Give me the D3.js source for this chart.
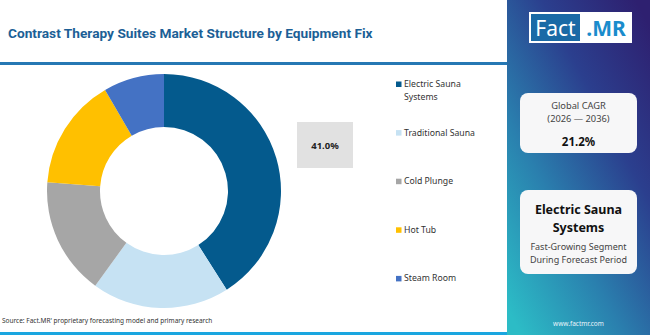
<!DOCTYPE html>
<html>
<head>
<meta charset="utf-8">
<title>Contrast Therapy Suites Market Structure by Equipment Fix</title>
<script src="https://d3js.org/d3.v7.min.js"></script>
<style>
  body { margin: 0; background: #fff; }
  svg { display: block; font-family: "Noto Sans", sans-serif; }
</style>
</head>
<body>
<svg width="650" height="335"></svg>
<script>
// data
const segments = ["Electric Sauna Systems", "Traditional Sauna", "Cold Plunge", "Hot Tub", "Steam Room"];
const shares = [41.0, 19.0, 16.2, 15.4, 8.4];
const colors = ["#045a8d", "#c6e2f3", "#a6a6a6", "#ffc000", "#4472c4"];
const legendLines = [["Electric Sauna", "Systems"], ["Traditional Sauna"], ["Cold Plunge"], ["Hot Tub"], ["Steam Room"]];
const cagrLabel = ["Global CAGR", "(2026 \u2014 2036)"];
const cagrValue = "21.2%";
const topSegment = ["Electric Sauna", "Systems"];
const topSegmentNote = ["Fast-Growing Segment", "During Forecast Period"];

const svg = d3.select("svg");
const W = 650, H = 335, panelX = 507;

// title + rules
svg.append("text")
   .attr("x", 8).attr("y", 38)
   .attr("fill", "#1c5f96")
   .style("font-family", "Roboto, sans-serif")
   .style("font-weight", 700)
   .style("font-size", "13.7px")
   .text("Contrast Therapy Suites Market Structure by Equipment Fix");

svg.append("rect").attr("x", 0).attr("y", 62).attr("width", panelX).attr("height", 3).attr("fill", "#2678b4");
svg.append("rect").attr("x", 0).attr("y", 332).attr("width", panelX).attr("height", 3).attr("fill", "#1aa6e0");

// donut
const pie = d3.pie().sort(null).value(d => d);
const arc = d3.arc().innerRadius(64).outerRadius(117);
const g = svg.append("g").attr("transform", "translate(164,191)");
g.selectAll("path")
 .data(pie(shares))
 .enter().append("path")
 .attr("d", arc)
 .attr("fill", (d, i) => colors[i]);

// value callout
svg.append("rect").attr("x", 297).attr("y", 122).attr("width", 56).attr("height", 46).attr("fill", "#e1e1e1");
svg.append("text")
   .attr("x", 325).attr("y", 149)
   .attr("text-anchor", "middle")
   .attr("fill", "#222")
   .style("font-weight", 700)
   .style("font-size", "9.5px")
   .text(shares[0].toFixed(1) + "%");

// legend
const legend = svg.selectAll(".leg")
   .data(segments)
   .enter().append("g")
   .attr("class", "leg")
   .attr("transform", (d, i) => "translate(396," + (87 + i * 48.6) + ")");
legend.append("rect")
   .attr("x", 0).attr("y", -5.5).attr("width", 5.5).attr("height", 5.5)
   .attr("fill", (d, i) => colors[i]);
legend.append("text")
   .attr("x", 8).attr("y", 0)
   .attr("fill", "#333")
   .style("font-size", "8.7px")
   .selectAll("tspan")
   .data((d, i) => legendLines[i])
   .enter().append("tspan")
   .attr("x", 8)
   .attr("dy", (d, j) => j === 0 ? 0 : 12.5)
   .text(d => d);

// side panel
const defs = svg.append("defs");
const grad = defs.append("linearGradient")
   .attr("id", "panelGrad")
   .attr("x1", 0.1).attr("y1", 1).attr("x2", 0.9).attr("y2", 0);
grad.append("stop").attr("offset", "0%").attr("stop-color", "#2cbcc6");
grad.append("stop").attr("offset", "35%").attr("stop-color", "#2a7fae");
grad.append("stop").attr("offset", "68%").attr("stop-color", "#2b3f8e");
grad.append("stop").attr("offset", "100%").attr("stop-color", "#2e2070");
svg.append("rect").attr("x", panelX).attr("y", 0).attr("width", W - panelX).attr("height", H).attr("fill", "url(#panelGrad)");

// logo
svg.append("rect").attr("x", 529).attr("y", 12).attr("width", 103).attr("height", 31).attr("fill", "#fff");
svg.append("rect").attr("x", 531).attr("y", 14).attr("width", 49).attr("height", 27).attr("fill", "#1a6aa6");
svg.append("text").attr("x", 555.5).attr("y", 36).attr("text-anchor", "middle")
   .attr("fill", "#fff").style("font-size", "21px").text("Fact");
svg.append("text").attr("x", 606).attr("y", 36).attr("text-anchor", "middle")
   .attr("fill", "#1a8ccc").style("font-weight", 700).style("font-size", "21px").text(".MR");

// cards
function card(y, h) {
  svg.append("rect").attr("x", 520).attr("y", y).attr("width", 117).attr("height", h)
     .attr("rx", 8).attr("fill", "#f7f7f8");
}
card(93, 60);
card(190, 84);

svg.selectAll(".cagr").data(cagrLabel).enter().append("text")
   .attr("x", 578.5).attr("y", (d, i) => 109 + i * 12.5)
   .attr("text-anchor", "middle").attr("fill", "#444")
   .style("font-size", "9.3px").text(d => d);
svg.append("text").attr("x", 578.5).attr("y", 146).attr("text-anchor", "middle")
   .attr("fill", "#111").style("font-weight", 700).style("font-size", "11.5px").text(cagrValue);

svg.selectAll(".seg").data(topSegment).enter().append("text")
   .attr("x", 578.5).attr("y", (d, i) => 214 + i * 18)
   .attr("text-anchor", "middle").attr("fill", "#111")
   .style("font-weight", 700).style("font-size", "12.5px").text(d => d);
svg.selectAll(".note").data(topSegmentNote).enter().append("text")
   .attr("x", 578.5).attr("y", (d, i) => 250 + i * 12.5)
   .attr("text-anchor", "middle").attr("fill", "#444")
   .style("font-size", "9px").text(d => d);

svg.append("text").attr("x", 578.5).attr("y", 326).attr("text-anchor", "middle")
   .attr("fill", "#e8f4fb").style("font-size", "6.5px").text("www.factmr.com");

// source
svg.append("text").attr("x", 2).attr("y", 323)
   .attr("fill", "#333").style("font-size", "6.5px")
   .text("Source: Fact.MR' proprietary forecasting model and primary research");
</script>
</body>
</html>
